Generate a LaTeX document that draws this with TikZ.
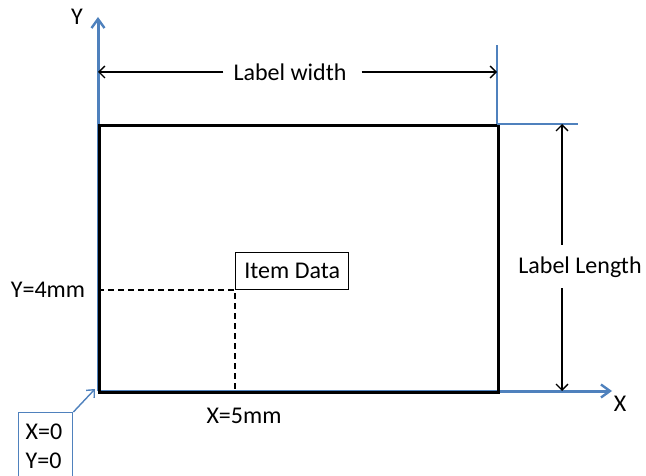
\documentclass[tikz,border=0pt]{standalone}
\usepackage{fontspec}
\setmainfont{Carlito}
\usetikzlibrary{arrows.meta}
\definecolor{axisblue}{HTML}{4F81BD}
\tikzset{
  axis/.style={draw=axisblue, line width=3pt, -{Straight Barb[length=9pt,width=13pt,line width=2.4pt]}},
  guide/.style={draw=axisblue, line width=1.4pt},
  dimline/.style={draw=black, line width=1.3pt},
  dimtip/.style={dimline, -{Straight Barb[length=6pt,width=12pt,line width=1.3pt]}},
  txt/.style={font=\fontsize{24}{28}\selectfont, inner sep=0pt, text=black},
  dashline/.style={draw=black, line width=1.4pt, dash pattern=on 6pt off 4pt},
}
\begin{document}
\begin{tikzpicture}[x=1pt,y=-1pt]
\useasboundingbox (0,0) rectangle (646,476);
% key points
\coordinate (O) at (98,391);
\coordinate (TL) at (98,124);
\coordinate (TR) at (497,124);
\coordinate (BR) at (497,391);
\coordinate (Ytop) at (98,17);
\coordinate (Xend) at (612,391);
\coordinate (TRup) at (497,45);
\coordinate (TRright) at (578,124);
\coordinate (P) at (235,290);
\coordinate (Pl) at (98,290);
\coordinate (Pb) at (235,391);
% axes
\draw[axis] (O) -- (Ytop);
\draw[axis] (O) -- (Xend);
\node[txt] (ylab) at (77,17) {Y};
\node[txt] (xlab) at (620,404) {X};
% label frame
\node[draw=black, line width=3pt, minimum width=399pt, minimum height=267pt, inner sep=0pt, anchor=north west] (frame) at (TL) {};
% guides
\draw[guide] (TR) -- (TRup);
\draw[guide] (TR) -- (TRright);
% label width dimension
\node[txt] (lw) at (290,72) {Label width};
\coordinate (lwL) at (98,72);
\coordinate (lwR) at (497,72);
\draw[dimtip] ([xshift=-10pt]lw.west) -- (lwL);
\draw[dimtip] ([xshift=15pt]lw.east) -- (lwR);
% label length dimension
\node[txt] (ll) at (580,267) {Label Length};
\coordinate (llT) at (562,124);
\coordinate (llB) at (562,391);
\coordinate (llG1) at (562,245);
\coordinate (llG2) at (562,288);
\draw[dimtip] (llG1) -- (llT);
\draw[dimtip] (llG2) -- (llB);
% dashed position lines
\draw[dashline] (Pl) -- (P) -- (Pb);
% item data box
\node[draw=black, line width=1.4pt, minimum width=113pt, minimum height=37pt, anchor=south west, inner sep=0pt, font=\fontsize{24}{28}\selectfont] (item) at (P) {Item Data};
\node[txt] (y4) at (48,290) {Y=4mm};
\node[txt] (x5) at (244,416) {X=5mm};
% origin callout
\node[draw=axisblue, line width=1.4pt, minimum width=54pt, minimum height=70pt, anchor=north west, inner sep=0pt] (orig) at (18,412) {};
\node[txt, align=left] (origtxt) at (44,446) {X=0\\[1pt]Y=0};
\draw[axisblue, line width=1.4pt, -{Straight Barb[length=6pt,width=11pt,line width=1.4pt]}] (orig.north east) -- ([shift={(-3pt,2pt)}]O);
\end{tikzpicture}
\end{document}
